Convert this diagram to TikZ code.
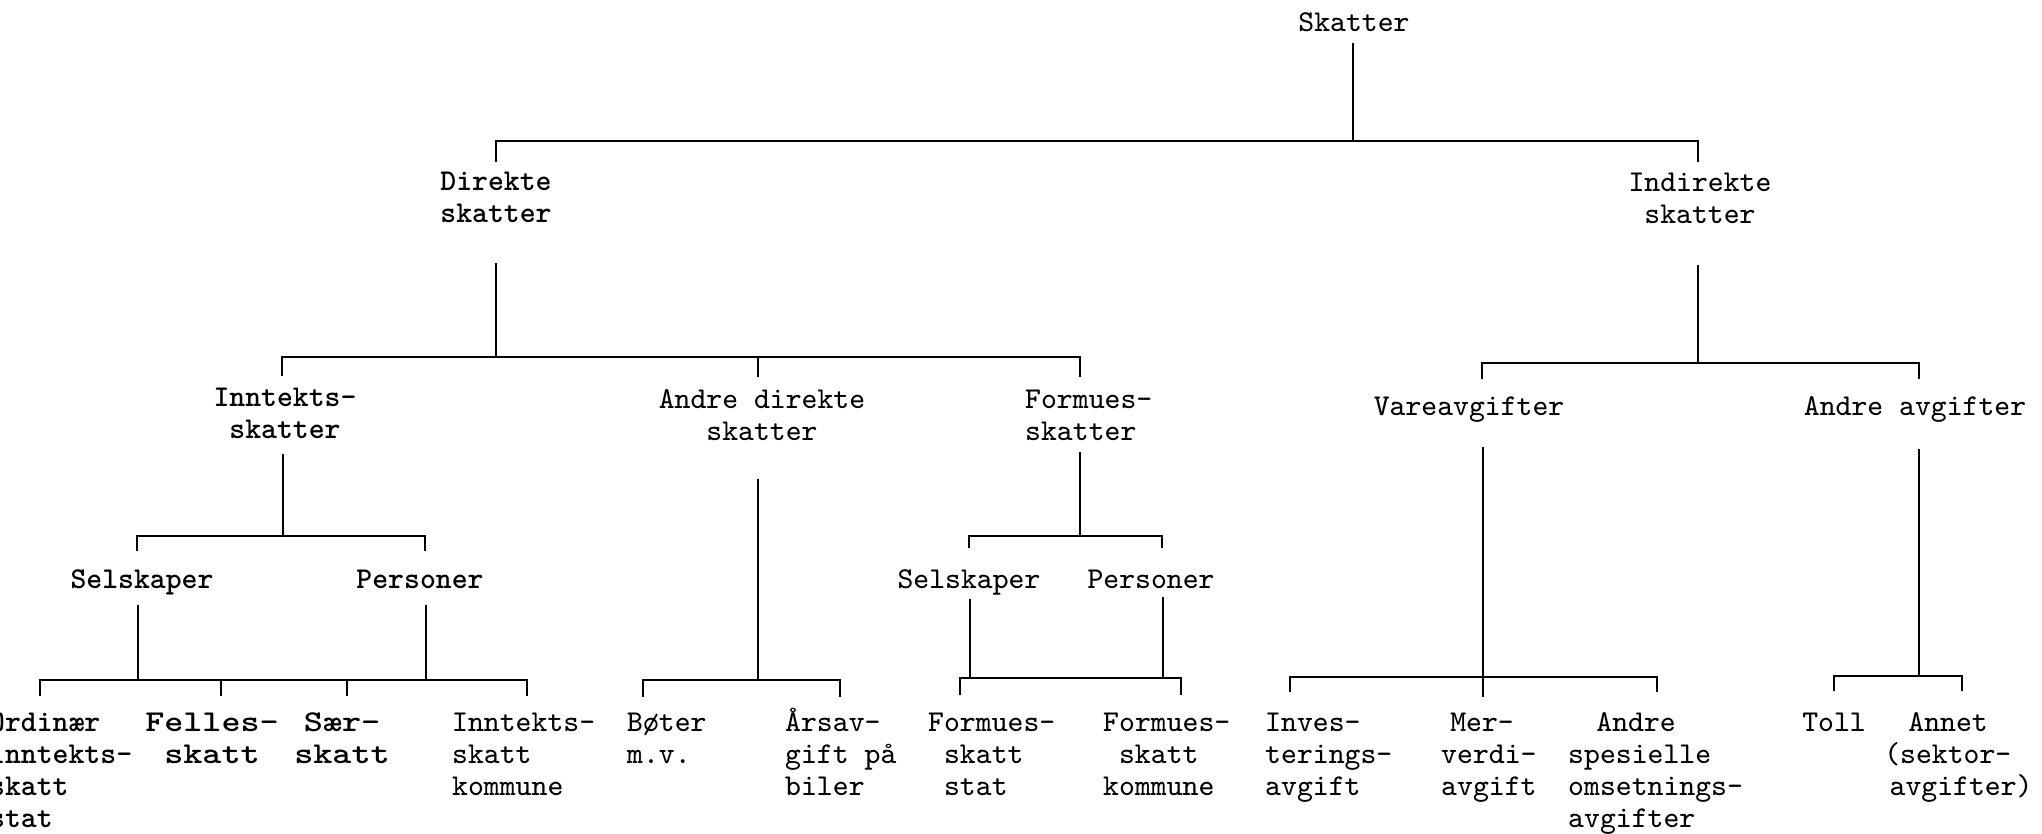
\documentclass[tikz,border=0pt]{standalone}
\usepackage{graphicx}
\usetikzlibrary{positioning, calc}

% bredere skrift (annen skrivemaskinkule)
\newcommand{\brei}[1]{\scalebox{1.2}[1]{#1}}

\tikzset{
  lab/.style={inner sep=0pt, anchor=base, align=center,
    font=\ttfamily\fontsize{8.6}{9.1}\selectfont},
  labv/.style={lab, anchor=base west, align=left},
  dark/.style={font=\ttfamily\bfseries\fontsize{8.6}{9.1}\selectfont}
}

\begin{document}
\begin{tikzpicture}[x=0.01cm, y=-0.01cm, line width=0.7pt]
\useasboundingbox (0,0) rectangle (2042,833);

% overskrifter (base = siste linje)
\node[lab] (skatter) at (1354,31) {Skatter};
\node[lab,dark] (direkte) at (496,222) {Direkte\\skatter};
\node[lab] (indirekte) at (1700,223) {Indirekte\\skatter};

\node[lab,dark] (inntekt) at (285,438) {Inntekts-\\skatter};
\node[lab] (andredir) at (762,440) {Andre direkte\\skatter};
\node[labv] (formue) at (1024,440) {Formues-\\skatter};
\node[lab] (vare) at (1469,415) {Vareavgifter};
\node[lab] (andreavg) at (1915,415) {Andre avgifter};

\node[lab,dark] (selsk) at (142,588) {Selskaper};
\node[lab,dark] (pers) at (420,588) {Personer};
\node[lab] (formselsk) at (969,588) {Selskaper};
\node[lab] (formpers) at (1151,588) {Personer};

% nederste rad
\node[labv,dark] (ordinaer) at (-12,827) {Ordinær\\inntekts-\\skatt\\stat};
\node[lab,dark] (felles) at (212,763) {\brei{Felles-}\\\brei{skatt}};
\node[lab,dark] (saer) at (342,763) {\brei{Sær-}\\\brei{skatt}};
\node[labv] (innkom) at (451,795) {Inntekts-\\skatt\\kommune};
\node[labv] (boter) at (626,763) {Bøter\\m.v.};
\node[labv] (arsavg) at (784,795) {Årsav-\\gift på\\biler};
\node[labv] (formstat) at (927,795) {Formues-\\\ skatt\\\ stat};
\node[labv] (formkom) at (1102,795) {Formues-\\\ skatt\\kommune};
\node[labv] (invest) at (1264,795) {Inves-\\terings-\\avgift};
\node[labv] (merverdi) at (1440,795) {\hspace*{.3em}Mer-\\verdi-\\avgift};
\node[labv] (omsetn) at (1567,827) {\hspace*{.93em}Andre\\spesielle\\omsetnings-\\avgifter};
\node[labv] (toll) at (1801,731) {Toll};
\node[labv] (annet) at (1883,795) {\hspace*{.8em}Annet\\(sektor-\\\hspace*{.18em}avgifter)};

% Skatter
\coordinate (s0) at (1353,141);
\coordinate (t-dir) at (496,162);
\coordinate (t-ind) at (1698,162);
\draw (skatter.base -| s0) ++(0,12) -- (s0);
\draw (t-dir) |- (s0) -| (t-ind);

% Direkte skatter
\coordinate (s1) at (496,357);
\coordinate (t-inn) at (282,376);
\coordinate (t-adir) at (758,377);
\coordinate (t-form) at (1080,377);
\draw (direkte.base -| s1) ++(0,41) -- (s1);
\draw (t-inn) |- (s1) -| (t-form);
\draw (t-adir) -- (t-adir |- s1);

% Indirekte skatter
\coordinate (s2) at (1698,363);
\coordinate (t-vare) at (1482,379);
\coordinate (t-aavg) at (1919,379);
\draw (indirekte.base -| s2) ++(0,42) -- (s2);
\draw (t-vare) |- (s2) -| (t-aavg);

% Inntektsskatter
\coordinate (s3) at (283,536);
\coordinate (t-sel) at (137,551);
\coordinate (t-per) at (425,551);
\draw (inntekt.base -| s3) ++(0,16) -- (s3);
\draw (t-sel) |- (s3) -| (t-per);

% Andre direkte skatter
\coordinate (s4) at (758,680);
\coordinate (t-bot) at (643,697);
\coordinate (t-ars) at (840,697);
\draw (andredir.base -| s4) ++(0,39) -- (s4);
\draw (t-bot) |- (s4) -| (t-ars);

% Formuesskatter
\coordinate (s5) at (1080,536);
\coordinate (t-fsel) at (969,548);
\coordinate (t-fper) at (1162,548);
\draw (formue.base -| s5) ++(0,12) -- (s5);
\draw (t-fsel) |- (s5) -| (t-fper);

% Vareavgifter
\coordinate (s6) at (1483,677);
\coordinate (t-inv) at (1290,692);
\coordinate (t-mer) at (1483,697);
\coordinate (t-oms) at (1657,692);
\draw (vare.base -| s6) ++(0,32) -- (s6);
\draw (t-inv) |- (s6) -| (t-oms);
\draw (t-mer) -- (s6);

% Andre avgifter
\coordinate (s7) at (1919,676);
\coordinate (t-toll) at (1834,691);
\coordinate (t-ann) at (1962,691);
\draw (andreavg.base -| s7) ++(0,34) -- (s7);
\draw (t-toll) |- (s7) -| (t-ann);

% Selskaper / Personer (inntekt)
\coordinate (s8) at (138,680);
\coordinate (s9) at (426,680);
\coordinate (t-ord) at (40,696);
\coordinate (t-fel) at (221,696);
\coordinate (t-saer) at (347,696);
\coordinate (t-ink) at (527,696);
\draw (selsk.base -| s8) ++(0,17) -- (s8);
\draw (pers.base -| s9) ++(0,17) -- (s9);
\draw (t-ord) |- (s8) -- (s9) -| (t-ink);
\foreach \t in {t-fel, t-saer} \draw (\t) -- (\t |- s8);

% Selskaper / Personer (formue)
\coordinate (s10) at (970,678);
\coordinate (s11) at (1163,678);
\coordinate (t-fst) at (960,695);
\coordinate (t-fko) at (1181,695);
\draw (formselsk.base -| s10) ++(0,11) -- (s10);
\draw (formpers.base -| s11) ++(0,9) -- (s11);
\draw (t-fst) |- (s10) -- (s11) -| (t-fko);
\end{tikzpicture}
\end{document}
